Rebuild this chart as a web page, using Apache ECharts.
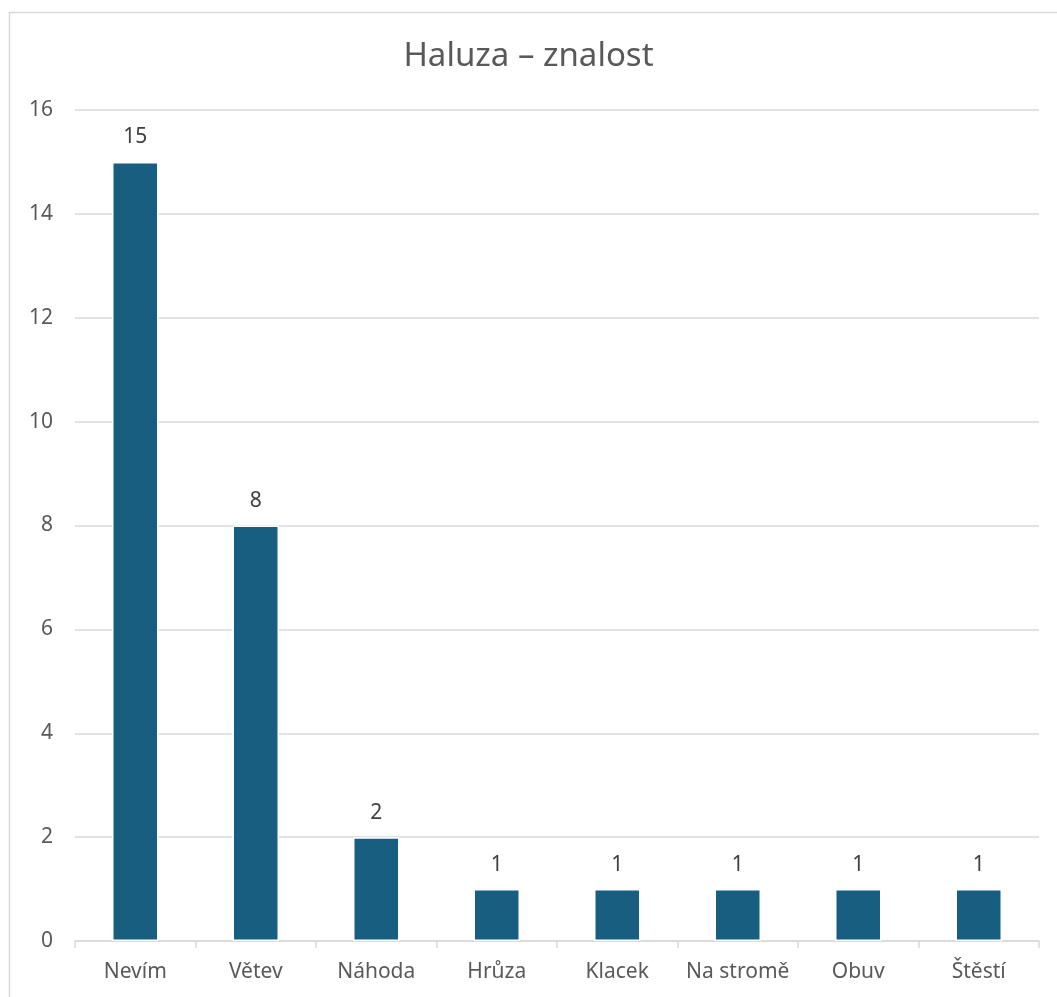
<!DOCTYPE html>
<html>
<head>
<meta charset="utf-8">
<script src="https://cdn.jsdelivr.net/npm/echarts@6/dist/echarts.min.js"></script>
<style>
  html, body { margin: 0; padding: 0; background: #ffffff; }
  #chart { width: 1057px; height: 997px; }
</style>
</head>
<body>
<div id="chart"></div>
<script>
// Odpovědi na otázku „Haluza“ – počet respondentů
const titleText = 'Haluza – znalost';
const categories = ['Nevím', 'Větev', 'Náhoda', 'Hrůza', 'Klacek', 'Na stromě', 'Obuv', 'Štěstí'];
const counts = [15, 8, 2, 1, 1, 1, 1, 1];
const yMin = 0;
const yMax = 16;
const yStep = 2;

const FONT = '"Noto Sans", "DejaVu Sans", sans-serif';
const chart = echarts.init(document.getElementById('chart'), null, { renderer: 'canvas' });

chart.setOption({
  backgroundColor: '#ffffff',
  animation: false,
  title: {
    text: titleText,
    left: 'center',
    top: 35,
    textStyle: { fontFamily: FONT, fontSize: 33, fontWeight: 'normal', color: '#595959' }
  },
  graphic: [{
    type: 'rect',
    silent: true,
    shape: { x: 9.5, y: 12.5, width: 1200, height: 1200 },
    style: { fill: 'none', stroke: '#d9d9d9', lineWidth: 1.5 }
  }],
  grid: { left: 75, right: 18, top: 110, bottom: 56, containLabel: false },
  xAxis: {
    type: 'category',
    data: categories,
    axisLine: { show: true, lineStyle: { color: '#d9d9d9', width: 1.5 } },
    axisTick: { show: true, length: 7, alignWithLabel: false, lineStyle: { color: '#d9d9d9', width: 1.5 } },
    axisLabel: { interval: 0, margin: 21, fontFamily: FONT, fontSize: 21, color: '#595959' }
  },
  yAxis: {
    type: 'value',
    min: yMin,
    max: yMax,
    interval: yStep,
    axisLine: { show: false },
    axisTick: { show: false },
    splitLine: { show: true, lineStyle: { color: '#d9d9d9', width: 1.5 } },
    axisLabel: { margin: 22, fontFamily: FONT, fontSize: 21, color: '#595959' }
  },
  series: [{
    type: 'bar',
    data: counts,
    barWidth: 46.5,
    itemStyle: { color: '#175E81', borderColor: '#ffffff', borderWidth: 1.5 },
    label: {
      show: true,
      position: 'top',
      distance: 14,
      fontFamily: FONT,
      fontSize: 21,
      color: '#404040'
    }
  }]
});
</script>
</body>
</html>
